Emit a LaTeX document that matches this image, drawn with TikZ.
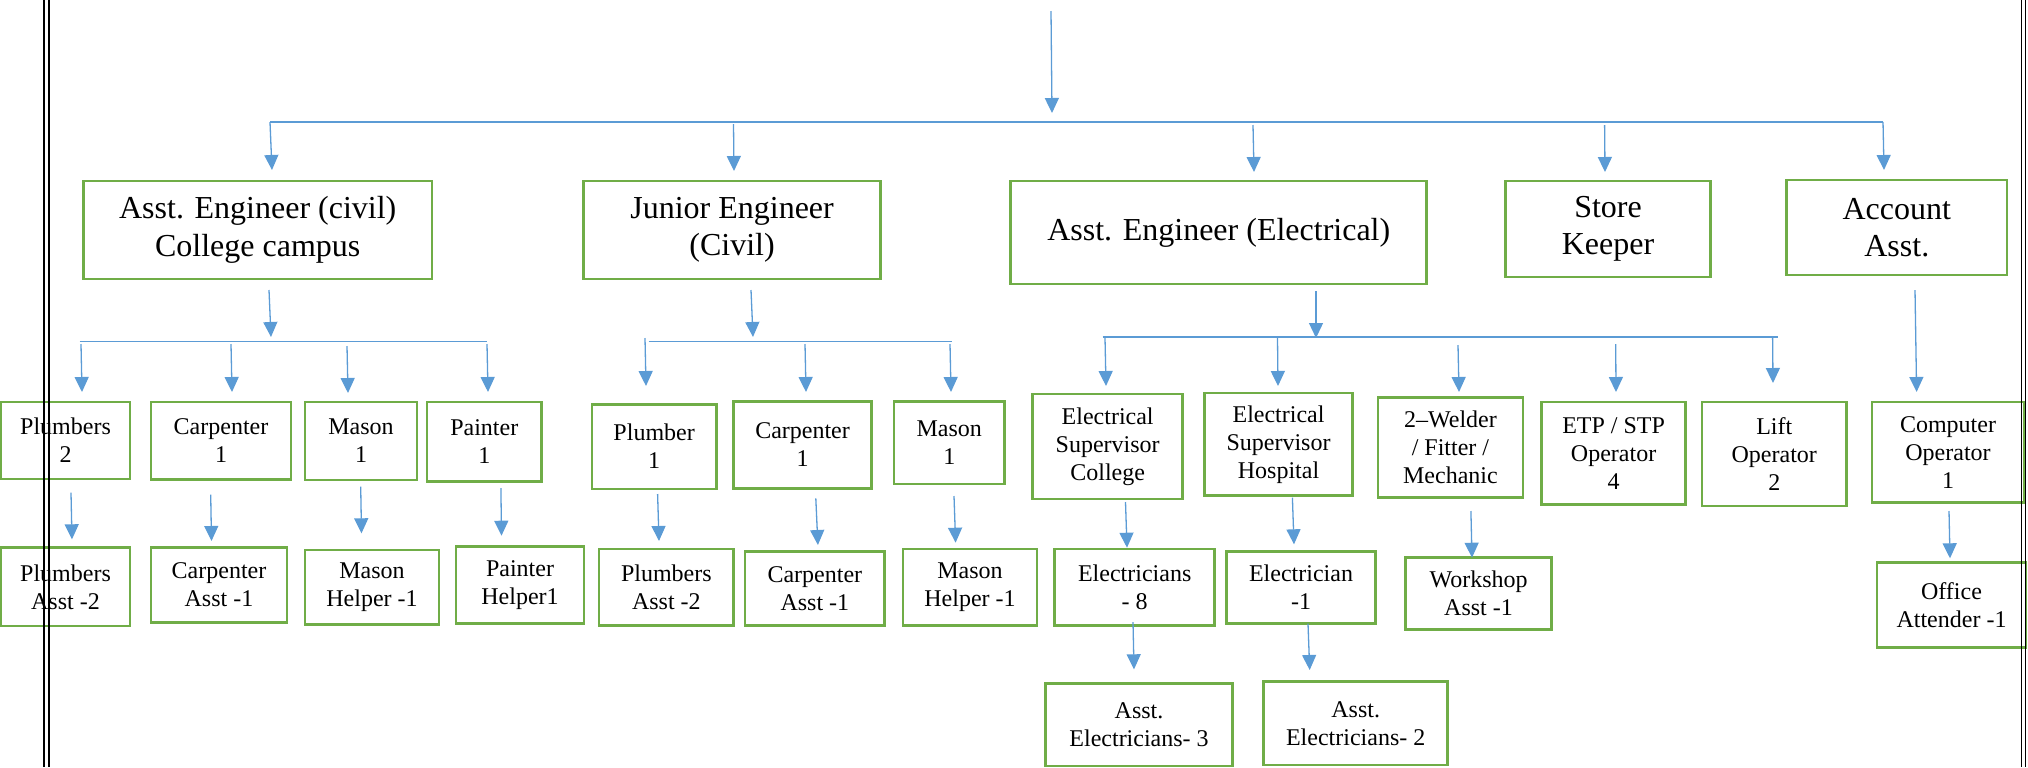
\documentclass[tikz,border=0pt]{standalone}
\usepackage{fontspec}
\setmainfont{Liberation Serif}
\usetikzlibrary{arrows.meta}
\definecolor{boxgreen}{HTML}{70AD47}
\definecolor{arrblue}{HTML}{5B9BD5}
\newcommand\bx[7]{%
  \pgfmathsetmacro\bxcx{(#3+#5)/2}%
  \pgfmathsetmacro\bxcy{(#4+#6)/2}%
  \pgfmathsetmacro\bxw{(#5-#3)*0.5}%
  \pgfmathsetmacro\bxh{(#6-#4)*0.5}%
  \node[#1, minimum width=\bxw pt, minimum height=\bxh pt] (#2) at (\bxcx,\bxcy) {#7};}
\newcommand\arw[5]{%
  \coordinate (#1-s) at (#2,#3);
  \coordinate (#1-e) at (#4,#5);
  \draw[arr] (#1-s) -- (#1-e);}
\begin{document}
\begin{tikzpicture}[x=0.5pt,y=-0.5pt,
  bigbox/.style={draw=boxgreen, line width=1.35pt, inner sep=0pt, align=center,
    font=\fontsize{16}{18.8}\selectfont},
  smallbox/.style={draw=boxgreen, line width=1.35pt, inner sep=0pt, align=center,
    font=\fontsize{12}{14}\selectfont},
  arr/.style={draw=arrblue, line width=0.65pt, -{Triangle[width=7pt,length=7.5pt]}, color=arrblue},
  bus/.style={draw=arrblue, line width=0.7pt},
  frame/.style={draw=black, line width=0.8pt}]
\useasboundingbox (0,0) rectangle (2028,767);

% ---- level 1 boxes
\bx{bigbox}{AEc}{83.5}{181}{432}{279}{Asst. Engineer (civil)\\College campus}
\bx{bigbox}{JE}{583.5}{181}{880.6}{279}{Junior Engineer\\(Civil)}
\bx{bigbox}{AEe}{1010.7}{181}{1426.8}{284}{Asst. Engineer (Electrical)}
\bx{bigbox}{SK}{1505.7}{181}{1710.4}{277}{Store\\Keeper}
\bx{bigbox}{AA}{1786.6}{180}{2007}{275}{Account\\Asst.}

% ---- level 2 boxes
\bx{smallbox}{P2}{1}{402}{130}{479}{Plumbers\\2}
\bx{smallbox}{C1}{151}{402}{291}{479.3}{Carpenter\\1}
\bx{smallbox}{M1}{305}{402}{417}{480}{Mason\\1}
\bx{smallbox}{Pa1}{427}{402}{541.5}{481.7}{Painter\\1}
\bx{smallbox}{Pl1}{592}{404.3}{716.3}{489}{Plumber\\1}
\bx{smallbox}{C1b}{733.7}{401.7}{871.4}{488.3}{Carpenter\\1}
\bx{smallbox}{M1b}{893.9}{401.7}{1004.6}{484}{Mason\\1}
\bx{smallbox}{ESC}{1032.7}{394}{1182.6}{499}{Electrical\\Supervisor\\College}
\bx{smallbox}{ESH}{1204.6}{393}{1352.5}{495.7}{Electrical\\Supervisor\\Hospital}
\bx{smallbox}{WFM}{1378}{397.3}{1522.9}{497.7}{2–Welder\\/ Fitter /\\Mechanic}
\bx{smallbox}{ETP}{1541.4}{402}{1685.8}{504.7}{ETP / STP\\Operator\\4}
\bx{smallbox}{LO}{1702}{402}{1846.5}{506}{Lift\\Operator\\2}
\bx{smallbox}{CO}{1872}{402}{2024}{502.7}{Computer\\Operator\\1}

% ---- level 3 boxes
\bx{smallbox}{PA2}{1}{547.7}{130}{626}{Plumbers\\Asst -2}
\bx{smallbox}{CA1}{151}{547.7}{287}{622.3}{Carpenter\\Asst -1}
\bx{smallbox}{MH1}{305}{550}{439}{624.3}{Mason\\Helper -1}
\bx{smallbox}{PH1}{456}{546.3}{584}{623.3}{Painter\\Helper1}
\bx{smallbox}{PA2b}{599}{549}{733.7}{625.7}{Plumbers\\Asst -2}
\bx{smallbox}{CA1b}{745}{551.3}{884.7}{625.7}{Carpenter\\Asst -1}
\bx{smallbox}{MH1b}{903}{549}{1037}{625.7}{Mason\\Helper -1}
\bx{smallbox}{E8}{1054.6}{549}{1214.8}{625.7}{Electricians\\- 8}
\bx{smallbox}{E1}{1226.5}{551.3}{1375.5}{623.7}{Electrician\\-1}
\bx{smallbox}{WA}{1405.4}{557.7}{1551.7}{629.7}{Workshop\\Asst -1}
\bx{smallbox}{OA}{1877}{562.7}{2026}{647.3}{Office\\Attender -1}

% ---- level 4 boxes
\bx{smallbox}{AE3}{1045.4}{683.5}{1232.7}{766}{Asst.\\Electricians- 3}
\bx{smallbox}{AE2}{1263.8}{681.7}{1447.6}{765}{Asst.\\Electricians- 2}

% ---- top level arrow and main bus
\arw{top}{1051}{11}{1052}{113}
\coordinate (busL) at (270,122);
\coordinate (busR) at (1883,122);
\draw[bus] (busL) -- (busR);
\arw{toAEc}{270}{122}{272}{170}
\arw{toJE}{733.5}{124}{734}{171}
\arw{toAEe}{1253}{125}{1254}{172}
\arw{toSK}{1604.6}{125}{1605}{172}
\arw{toAA}{1883}{122}{1884}{170}

% ---- civil (college) branch
\arw{AEcdown}{269}{290}{271}{337}
\coordinate (cbL) at (79.5,341.7);
\coordinate (cbR) at (486.6,341.7);
\draw[bus] (cbL) -- (cbR);
\arw{toP2}{81}{344}{82}{392}
\arw{toC1}{231}{344}{232}{392}
\arw{toM1}{347}{346}{348}{393}
\arw{toPa1}{487}{344}{488}{392}

% ---- junior engineer branch
\arw{JEdown}{751}{290}{753}{337}
\coordinate (jbL) at (648.5,341.7);
\coordinate (jbR) at (952,341.7);
\draw[bus] (jbL) -- (jbR);
\arw{toPl1}{645}{338}{646}{386}
\arw{toC1b}{805}{344}{806}{392}
\arw{toM1b}{950}{344}{951}{392}

% ---- electrical branch
\arw{AEedown}{1316}{291}{1316}{338}
\coordinate (ebL) at (1102.6,337);
\coordinate (ebR) at (1778,337);
\draw[bus] (ebL) -- (ebR);
\arw{toESC}{1105}{338}{1106}{386}
\arw{toESH}{1277.5}{338}{1278}{386}
\arw{toWFM}{1458}{345}{1459}{392}
\arw{toETP}{1615.7}{344}{1616}{392}
\arw{toLO}{1772.6}{337}{1773}{383}

% ---- account branch
\arw{AAdown}{1915}{290}{1916.6}{392}

% ---- level 2 -> level 3
\arw{toPA2}{71}{492.7}{72}{539.3}
\arw{toCA1}{210.7}{494.7}{211.5}{541}
\arw{toMH1}{360.7}{486.7}{361.5}{533.3}
\arw{toPH1}{500.9}{488}{501.5}{535.7}
\arw{toPA2b}{657.6}{494}{659}{541}
\arw{toCA1b}{815.8}{498.3}{817.9}{545}
\arw{toMH1b}{954}{496}{955.6}{542.7}
\arw{toE8}{1125.5}{502}{1127}{547.7}
\arw{toE1}{1292.4}{497.7}{1294}{544.3}
\arw{toWA}{1470.9}{511}{1472}{557.7}
\arw{toOA}{1949}{511}{1950}{558.3}

% ---- level 3 -> level 4
\arw{toAE3}{1133}{622}{1134}{669.3}
\arw{toAE2}{1308}{623.7}{1309.7}{670}

% ---- page frame lines
\draw[frame] (44,0) -- (44,767);
\draw[frame] (48.7,0) -- (48.7,767);
\draw[frame] (2021.5,0) -- (2021.5,767);
\draw[frame] (2025.5,0) -- (2025.5,767);
\end{tikzpicture}
\end{document}
